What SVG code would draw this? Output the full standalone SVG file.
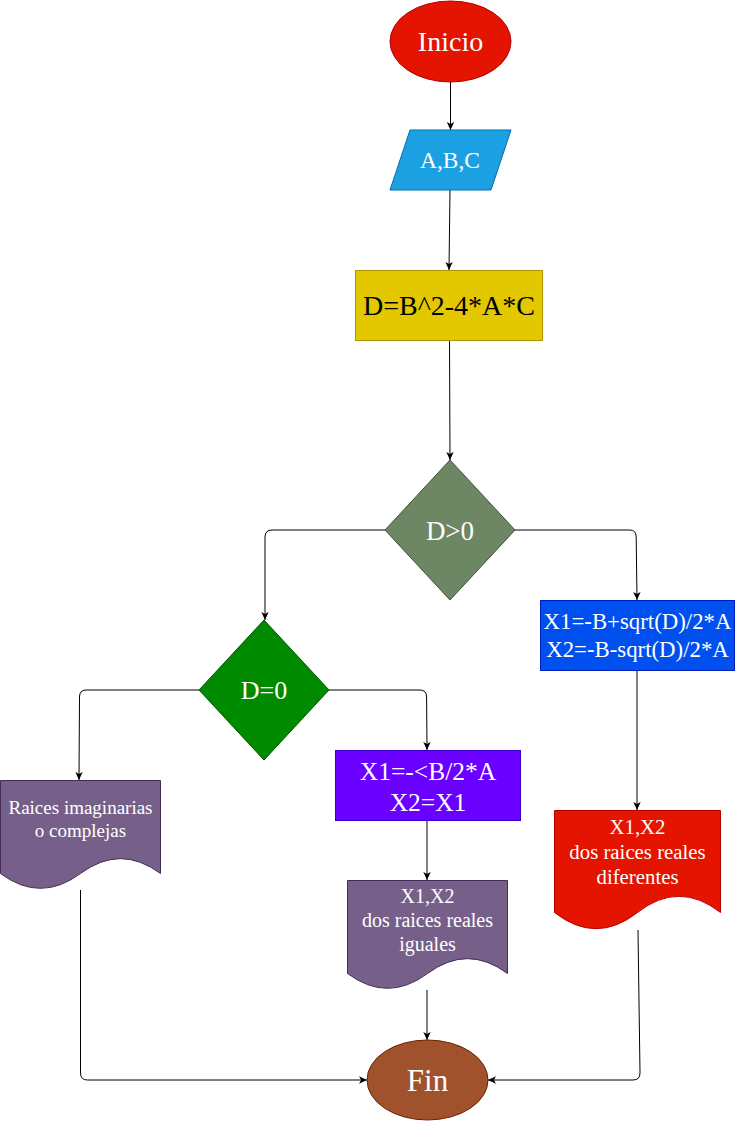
<svg xmlns="http://www.w3.org/2000/svg" width="735" height="1121" viewBox="0 0 735 1121">
<style>
text{font-family:"Liberation Serif","Times New Roman",serif;text-anchor:middle;fill:#ffffff}
.c{fill:none;stroke:#000000;stroke-width:1;marker-end:url(#arr)}
</style>
<defs>
<marker id="arr" markerWidth="9" markerHeight="9" viewBox="0 0 9 9" refX="8.5" refY="4.5" orient="auto" markerUnits="userSpaceOnUse">
<path d="M0.5,0.8 L8.5,4.5 L0.5,8.2 L2.6,4.5 Z" fill="#000000"/>
</marker>
</defs>
<rect width="735" height="1121" fill="#ffffff"/>
<g id="connectors">
<path class="c" d="M450.5,82 L450.5,130"/>
<path class="c" d="M450,190 L449,270"/>
<path class="c" d="M449.5,340 L450,460"/>
<path class="c" d="M385,530 L272,530 Q265,530 265,537 L265,620"/>
<path class="c" d="M515,530 L630,530 Q636,530 636.2,537 L637,600"/>
<path class="c" d="M199,690 L86,690 Q79.5,690 79.5,697 L79,780"/>
<path class="c" d="M329,690 L420,690 Q426.5,690 426.6,697 L427,750"/>
<path class="c" d="M637,670 L637,810"/>
<path class="c" d="M427,820 L427,880"/>
<path class="c" d="M427,990 L427,1040"/>
<path class="c" d="M80.5,890 L80.5,1073 Q80.5,1080 87.5,1080 L367,1080"/>
<path class="c" d="M638,930 L640,1073 Q640,1080 633,1080 L488,1080"/>
</g>
<g id="inicio">
<ellipse cx="450.5" cy="41.5" rx="60.5" ry="40.5" fill="#e51400" stroke="#b20000"/>
<text x="450.5" y="51" font-size="28">Inicio</text>
</g>
<g id="entrada">
<path d="M410,130 L511,130 L491,190 L390,190 Z" fill="#1ba1e2" stroke="#006eaf"/>
<text x="450" y="168" font-size="23.5">A,B,C</text>
</g>
<g id="discriminante">
<rect x="355.5" y="270.5" width="187" height="70" fill="#e3c800" stroke="#b09500"/>
<text x="449" y="315" font-size="28" style="fill:#000000">D=B^2-4*A*C</text>
</g>
<g id="dmayor0">
<path d="M450,460 L515,530 L450,600 L385,530 Z" fill="#6d8764" stroke="#3a5431"/>
<text x="450" y="540" font-size="27">D&gt;0</text>
</g>
<g id="digual0">
<path d="M264,620 L329,690 L264,760 L199,690 Z" fill="#008a00" stroke="#005700"/>
<text x="264" y="699" font-size="26">D=0</text>
</g>
<g id="reales">
<rect x="540.5" y="600.5" width="194" height="70" fill="#0050ef" stroke="#001dbc"/>
<text x="637.5" y="629" font-size="22.8">X1=-B+sqrt(D)/2*A</text>
<text x="637.5" y="657" font-size="22.8">X2=-B-sqrt(D)/2*A</text>
</g>
<g id="iguales">
<rect x="335.5" y="750.5" width="185" height="70" fill="#6a00ff" stroke="#3700cc"/>
<text x="428" y="780" font-size="25.5">X1=-&lt;B/2*A</text>
<text x="428" y="811" font-size="25.5">X2=X1</text>
</g>
<g id="imaginarias">
<path d="M0.5,780.5 L160.5,780.5 L160.5,873.5 Q120.5,843.8 80.5,873.5 Q40.5,903.2 0.5,873.5 Z" fill="#76608a" stroke="#432d57"/>
<text x="80.5" y="814" font-size="19">Raices imaginarias</text>
<text x="80.5" y="837" font-size="19">o complejas</text>
</g>
<g id="salida-iguales">
<path d="M347.5,880.5 L507.5,880.5 L507.5,973.5 Q467.5,943.8 427.5,973.5 Q387.5,1003.2 347.5,973.5 Z" fill="#76608a" stroke="#432d57"/>
<text x="427.5" y="903" font-size="20">X1,X2</text>
<text x="427.5" y="927" font-size="20">dos raices reales</text>
<text x="427.5" y="951" font-size="20">iguales</text>
</g>
<g id="salida-diferentes">
<path d="M554.5,810.5 L720.5,810.5 L720.5,912.5 Q679,880.1 637.5,912.5 Q596,944.9 554.5,912.5 Z" fill="#e51400" stroke="#b20000"/>
<text x="637.5" y="834" font-size="20.8">X1,X2</text>
<text x="637.5" y="859" font-size="20.8">dos raices reales</text>
<text x="637.5" y="884" font-size="20.8">diferentes</text>
</g>
<g id="fin">
<ellipse cx="427.5" cy="1080" rx="60.5" ry="40" fill="#a0522d" stroke="#6d1f00"/>
<text x="427.5" y="1091" font-size="31">Fin</text>
</g>
</svg>
